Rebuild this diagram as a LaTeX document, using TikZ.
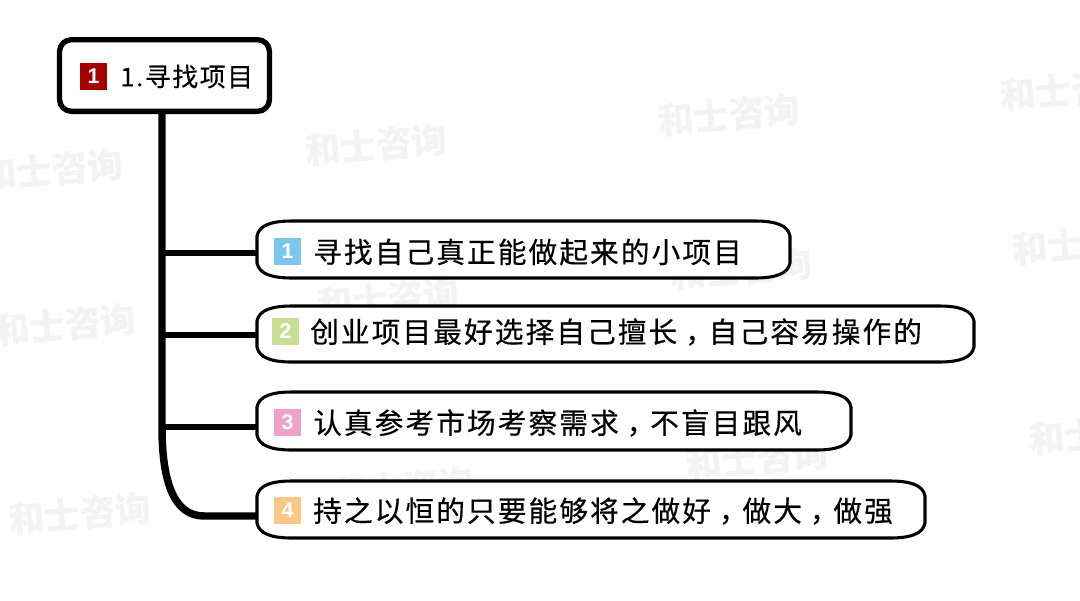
\documentclass[tikz,border=0pt]{standalone}
\usepackage{fontspec}
\setmainfont{Liberation Sans}
\newfontfamily\cjkkid[LetterSpace=7.3,FakeBold=0.35]{Noto Sans CJK SC}
\newfontfamily\cjkroot[LetterSpace=6,FakeBold=0.2]{Noto Sans CJK SC}
\newfontfamily\cjkmark{Noto Sans CJK SC}
\newcommand{\shiftcomma}{\kern6pt，\kern-3.9pt}
\usetikzlibrary{calc}
\definecolor{markgray}{HTML}{F3F3F3}
\definecolor{badgeroot}{HTML}{A50000}
\definecolor{badgeblue}{HTML}{7CC6EE}
\definecolor{badgegreen}{HTML}{C6DE94}
\definecolor{badgepink}{HTML}{F0A2C6}
\definecolor{badgeorange}{HTML}{F8C884}
\tikzset{
  x=0.75pt,y=-0.75pt,
  watermark/.style={text=markgray,font=\cjkmark\bfseries\fontsize{26.8pt}{27pt}\selectfont,rotate=5,inner sep=0pt},
  rootbox/.style={draw=black,fill=white,line width=4pt,rounded corners=9pt,minimum width=157.5pt,minimum height=53.75pt,inner sep=0pt},
  kidanchor/.style={inner sep=0pt,outer sep=0pt,minimum height=42pt},
  kidline/.style={draw=black,fill=white,line width=2.3pt},
  badge/.style={minimum width=20.25pt,minimum height=20.25pt,inner sep=0pt,text=white,font=\bfseries\fontsize{16pt}{16pt}\selectfont},
  kidtext/.style={anchor=west,inner sep=0pt,font=\cjkkid\fontsize{21.5pt}{24pt}\selectfont},
  roottext/.style={anchor=west,inner sep=0pt,font=\cjkroot\fontsize{19.4pt}{22pt}\selectfont},
  trunkline/.style={line width=5.6pt,draw=black},
  branchline/.style={line width=3.9pt,draw=black},
}
\newcommand{\kidoutline}[1]{%
  \draw[kidline]
    ($(#1.north west)+(0,15)$)
    .. controls ($(#1.north west)+(2,4)$) and ($(#1.north west)+(15,0)$) .. ($(#1.north west)+(35,0)$)
    -- ($(#1.north east)+(-35,0)$)
    .. controls ($(#1.north east)+(-15,0)$) and ($(#1.north east)+(-2,4)$) .. ($(#1.north east)+(0,15)$)
    -- ($(#1.south east)+(0,-15)$)
    .. controls ($(#1.south east)+(-2,-4)$) and ($(#1.south east)+(-15,0)$) .. ($(#1.south east)+(-35,0)$)
    -- ($(#1.south west)+(35,0)$)
    .. controls ($(#1.south west)+(15,0)$) and ($(#1.south west)+(2,-4)$) .. ($(#1.south west)+(0,-15)$)
    -- cycle;}
\begin{document}
\begin{tikzpicture}
\useasboundingbox[fill=white] (0,0) rectangle (1080,600);
% watermarks
\node[watermark] (w1) at (52,170) {和士咨询};
\node[watermark] (w2) at (376,145) {和士咨询};
\node[watermark] (w3) at (729,115) {和士咨询};
\node[watermark] (w4) at (1071,90) {和士咨询};
\node[watermark] (w5) at (65,325) {和士咨询};
\node[watermark] (w6) at (388,299) {和士咨询};
\node[watermark] (w7) at (741,269) {和士咨询};
\node[watermark] (w8) at (1083,244) {和士咨询};
\node[watermark] (w9) at (80,514) {和士咨询};
\node[watermark] (w10) at (403,488) {和士咨询};
\node[watermark] (w11) at (757,459) {和士咨询};
\node[watermark] (w12) at (1100,434) {和士咨询};
% anchors of the boxes
\node[kidanchor,minimum width=399.75pt,minimum height=42.75pt] (k1) at (523.5,249.5) {};
\node[kidanchor,minimum width=537.75pt,minimum height=42pt] (k2) at (615.5,334) {};
\node[kidanchor,minimum width=445.5pt,minimum height=43.5pt] (k3) at (554,421) {};
\node[kidanchor,minimum width=501pt,minimum height=42.75pt] (k4) at (591,509.5) {};
\node[rootbox] (root) at (164.5,75.5) {};
% connectors
\coordinate (t0) at ($(root.south)+(-2.5,-2)$);
\coordinate (e1) at ($(k1.west)+(0,3.5)$);
\coordinate (e2) at ($(k2.west)+(0,1)$);
\coordinate (e3) at ($(k3.west)+(0,6)$);
\coordinate (e4) at ($(k4.west)+(0,6.5)$);
\draw[trunkline] (t0) -- (t0 |- e3) .. controls ($(t0 |- e3)+(0,55)$) and ($(t0 |- e4)+(12,0)$) .. ($(t0 |- e4)+(42,0)$) -- (e4);
\draw[branchline] (t0 |- e1) -- (e1);
\draw[branchline] (t0 |- e2) -- (e2);
\draw[branchline] (t0 |- e3) -- (e3);
% outlines
\kidoutline{k1}
\kidoutline{k2}
\kidoutline{k3}
\kidoutline{k4}
% badges and labels
\node[badge,fill=badgeroot] (b0) at (93.5,76) {1};
\node[roottext] (l0) at (120,76.5) {1.寻找项目};
\node[badge,fill=badgeblue] (b1) at (287.5,251.5) {1};
\node[kidtext] (l1) at (313,252) {寻找自己真正能做起来的小项目};
\node[badge,fill=badgegreen] (b2) at (285.5,331.5) {2};
\node[kidtext] (l2) at (310,332) {创业项目最好选择自己擅长\shiftcomma 自己容易操作的};
\node[badge,fill=badgepink] (b3) at (287.5,422.5) {3};
\node[kidtext] (l3) at (313,423) {认真参考市场考察需求\shiftcomma 不盲目跟风};
\node[badge,fill=badgeorange] (b4) at (287.5,510.5) {4};
\node[kidtext] (l4) at (313,511) {持之以恒的只要能够将之做好\shiftcomma 做大\shiftcomma 做强};
\end{tikzpicture}
\end{document}
